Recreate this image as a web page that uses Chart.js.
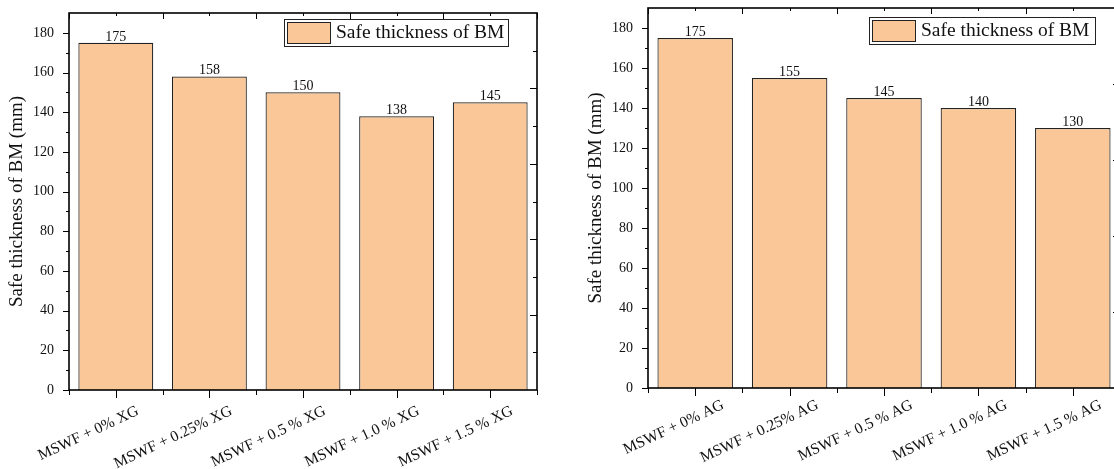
<!DOCTYPE html>
<html>
<head>
<meta charset="utf-8">
<script src="https://cdn.jsdelivr.net/npm/chart.js@4"></script>
<style>
  html, body { margin: 0; padding: 0; background: #fff; overflow: hidden; width: 1114px; height: 469px; }
  .box { position: absolute; top: 0; height: 469px; }
</style>
</head>
<body>
<div class="box" style="left:0;width:557px"><canvas id="xgChart"></canvas></div>
<div class="box" style="left:557px;width:580px"><canvas id="agChart"></canvas></div>
<script>
// data
const xgLabels = ['MSWF + 0% XG', 'MSWF + 0.25% XG', 'MSWF + 0.5 % XG', 'MSWF + 1.0 % XG', 'MSWF + 1.5 % XG'];
const xgValues = [175, 158, 150, 138, 145];
const agLabels = ['MSWF + 0% AG', 'MSWF + 0.25% AG', 'MSWF + 0.5 % AG', 'MSWF + 1.0 % AG', 'MSWF + 1.5 % AG'];
const agValues = [175, 155, 145, 140, 130];
const yMax = 190;
const yStep = 20;
const seriesName = 'Safe thickness of BM';
const yTitle = 'Safe thickness of BM (mm)';

const SERIF = "'Liberation Serif', 'Times New Roman', serif";
const BAR_FILL = '#FAC898';
const BAR_EDGE = '#222';

Chart.defaults.font.family = SERIF;
Chart.defaults.color = '#111';

function line(ctx, x1, y1, x2, y2) {
  ctx.beginPath();
  ctx.moveTo(x1, y1);
  ctx.lineTo(x2, y2);
  ctx.stroke();
}

// frame, tick marks, value labels and boxed legend (Origin style)
const originPlugin = {
  id: 'origin',
  afterDraw(chart, args, opts) {
    const { ctx, chartArea: a, scales: { x, y } } = chart;
    const n = chart.data.labels.length;
    ctx.save();
    ctx.strokeStyle = '#000';

    // ticks
    ctx.lineWidth = 1;
    for (let v = 0; v < y.max; v += yStep / 2) {
      const py = Math.round(y.getPixelForValue(v)) + 0.5;
      line(ctx, a.left - (v % yStep === 0 ? 6 : 3), py, a.left, py);
    }
    for (let i = 1; i < 10; i++) {
      const py = Math.round(y.getPixelForValue(y.max * i / 10)) + 0.5;
      line(ctx, a.right - (i % 2 === 0 ? 7 : 4), py, a.right, py);
    }
    for (let i = 0; i < n; i++) {
      const px = Math.round(x.getPixelForValue(i)) + 0.5;
      line(ctx, px, a.bottom, px, a.bottom + 8);
      line(ctx, px, a.top, px, a.top + 3);
    }
    for (let i = 0; i <= n; i++) {
      const px = Math.round(x.getPixelForValue(i - 0.5)) + 0.5;
      line(ctx, px, a.bottom, px, a.bottom + 5);
      line(ctx, px, a.top, px, a.top + 6);
    }

    // frame
    ctx.lineWidth = 1.6;
    ctx.strokeRect(a.left, a.top, a.right - a.left, a.bottom - a.top);

    // value labels
    const ds = chart.data.datasets[0];
    ctx.fillStyle = '#111';
    ctx.font = '14px ' + SERIF;
    ctx.textAlign = 'center';
    ctx.textBaseline = 'alphabetic';
    chart.getDatasetMeta(0).data.forEach((bar, i) => {
      ctx.fillText(String(ds.data[i]), bar.x, bar.y - 2);
    });

    // legend
    const bx = a.right - opts.right - opts.width;
    const by = a.top + opts.top;
    ctx.lineWidth = 1;
    ctx.strokeStyle = '#222';
    ctx.fillStyle = '#fff';
    ctx.fillRect(bx, by, opts.width, 27);
    ctx.strokeRect(bx + 0.5, by + 0.5, opts.width, 27);
    ctx.fillStyle = BAR_FILL;
    ctx.fillRect(bx + 3.5, by + 3.5, 43, 21);
    ctx.strokeRect(bx + 3.5, by + 3.5, 43, 21);
    ctx.fillStyle = '#111';
    ctx.font = '19.5px ' + SERIF;
    ctx.textAlign = 'left';
    ctx.textBaseline = 'middle';
    ctx.fillText(ds.label, bx + 52, by + 14);
    ctx.restore();
  }
};

function makeChart(id, labels, values, layout) {
  return new Chart(document.getElementById(id), {
    type: 'bar',
    data: {
      labels: labels,
      datasets: [{
        label: seriesName,
        data: values,
        backgroundColor: BAR_FILL,
        borderColor: BAR_EDGE,
        borderWidth: 1.2,
        barPercentage: 0.8,
        categoryPercentage: 1.0
      }]
    },
    options: {
      responsive: true,
      maintainAspectRatio: false,
      animation: false,
      devicePixelRatio: 1,
      layout: { padding: layout.padding },
      plugins: {
        legend: { display: false },
        tooltip: { enabled: false },
        origin: layout.legend
      },
      scales: {
        x: {
          grid: { display: false, drawTicks: false },
          border: { display: false },
          ticks: {
            autoSkip: false,
            minRotation: 25,
            maxRotation: 25,
            labelOffset: layout.labelOffset,
            padding: layout.labelPad,
            color: '#111',
            font: { size: 15.5 }
          },
          afterFit(scale) {
            scale.height = layout.xHeight;
            scale.paddingLeft = 0;
            scale.paddingRight = 0;
          }
        },
        y: {
          min: 0,
          max: yMax,
          grid: { display: false, drawTicks: false },
          border: { display: false },
          ticks: { stepSize: yStep, padding: 15, color: '#111', font: { size: 14 } },
          afterBuildTicks(scale) {
            scale.ticks = scale.ticks.filter(t => t.value % yStep === 0 && t.value < yMax);
          },
          title: {
            display: true,
            text: yTitle,
            color: '#111',
            font: { size: 19 },
            padding: { top: 6, bottom: 0 }
          },
          afterFit(scale) {
            scale.width = 69;
            scale.paddingTop = 0;
            scale.paddingBottom = 0;
          }
        }
      }
    },
    plugins: [originPlugin]
  });
}

makeChart('xgChart', xgLabels, xgValues, {
  padding: { left: 0, top: 13, right: 20, bottom: 0 },
  xHeight: 79,
  labelOffset: 22,
  labelPad: 12,
  legend: { right: 29, top: 6, width: 224 }
});

makeChart('agChart', agLabels, agValues, {
  padding: { left: 22, top: 8, right: 17, bottom: 0 },
  xHeight: 81,
  labelOffset: 28,
  labelPad: 8,
  legend: { right: 25, top: 9, width: 226 }
});
</script>
</body>
</html>
